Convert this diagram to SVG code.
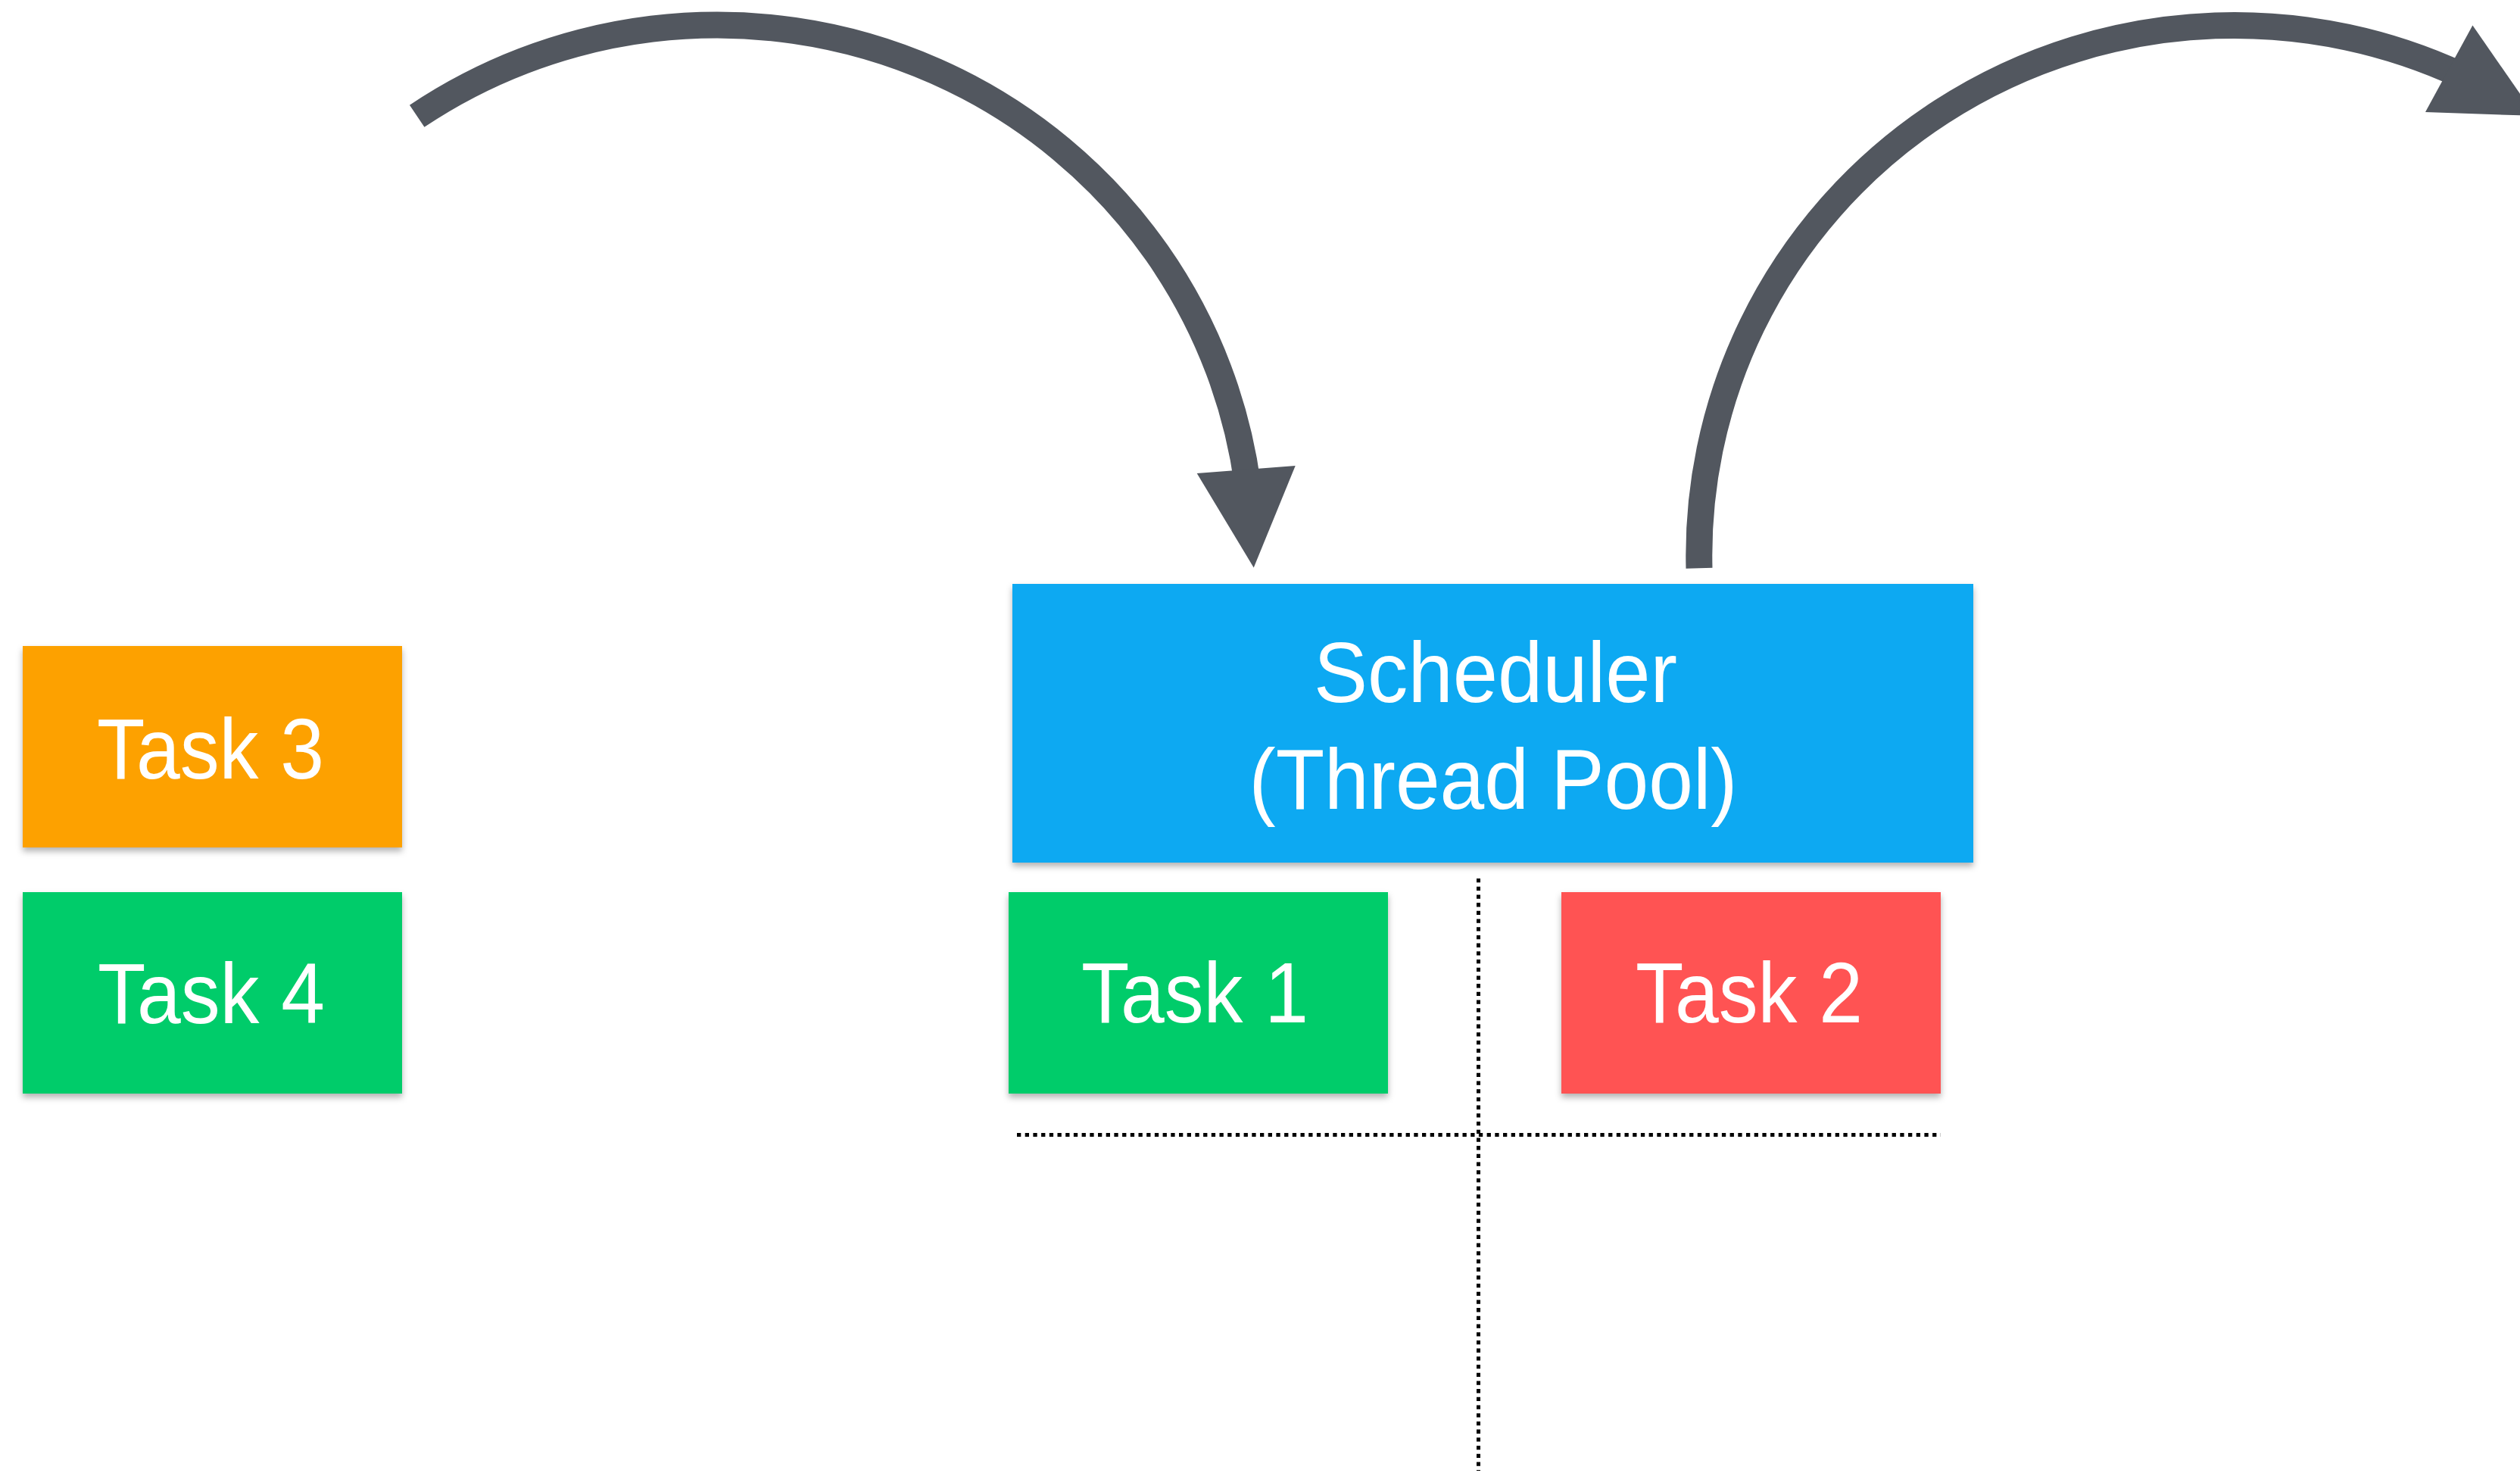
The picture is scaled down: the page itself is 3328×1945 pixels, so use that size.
<svg xmlns="http://www.w3.org/2000/svg" width="3328" height="1945" viewBox="0 0 3328 1945">
  <defs>
    <style>
      .box { filter: url(#shadow); }
      .label { font-family: "Liberation Sans", Arial, sans-serif; font-size: 113px; fill: #ffffff; text-anchor: middle; }
      .flow { fill: none; stroke: #52575F; stroke-width: 35; stroke-linecap: butt; }
      .head { fill: #52575F; }
      .guide { fill: none; stroke: #000000; stroke-width: 5; stroke-dasharray: 5.3 5.4; }
    </style>
    <filter id="shadow" x="-5%" y="-10%" width="110%" height="125%">
      <feDropShadow dx="0" dy="5" stdDeviation="4" flood-color="#000000" flood-opacity="0.3"/>
    </filter>
    <!-- arrowhead pointing along +x, base centred on the origin -->
    <path id="arrowhead" d="M0,-65.2 L130,0 L0,65.2 Z"/>
  </defs>

  <rect width="3328" height="1945" fill="#ffffff"/>

  <!-- queued tasks -->
  <g id="node-task3">
    <rect class="box" x="30" y="853" width="501" height="266" fill="#FDA100"/>
    <text class="label" x="278" y="1028" textLength="300" lengthAdjust="spacingAndGlyphs">Task 3</text>
  </g>
  <g id="node-task4">
    <rect class="box" x="30" y="1178" width="501" height="266" fill="#03CC6B"/>
    <text class="label" x="279" y="1351" textLength="300" lengthAdjust="spacingAndGlyphs">Task 4</text>
  </g>

  <!-- scheduler -->
  <g id="node-scheduler">
    <rect class="box" x="1337" y="771" width="1269" height="368" fill="#0EA9F2"/>
    <text class="label" x="1975" y="927" style="font-size:114px" textLength="480" lengthAdjust="spacingAndGlyphs">Scheduler</text>
    <text class="label" x="1972" y="1068" style="font-size:114px" textLength="645" lengthAdjust="spacingAndGlyphs">(Thread Pool)</text>
  </g>

  <!-- running tasks -->
  <g id="node-task1">
    <rect class="box" x="1332" y="1178" width="501" height="266" fill="#03CC6B"/>
    <text class="label" x="1578" y="1350" textLength="300" lengthAdjust="spacingAndGlyphs">Task 1</text>
  </g>
  <g id="node-task2">
    <rect class="box" x="2062" y="1178" width="501" height="266" fill="#FF5252"/>
    <text class="label" x="2310" y="1350" textLength="300" lengthAdjust="spacingAndGlyphs">Task 2</text>
  </g>

  <!-- thread lanes -->
  <g id="lanes">
    <line class="guide" x1="1952.5" y1="1160" x2="1952.5" y2="1942"/>
    <line class="guide" x1="1343" y1="1498.5" x2="2563" y2="1498.5"/>
  </g>

  <!-- connectors -->
  <g id="connectors">
    <path class="flow" d="M550.7,153.3 A707,700 0 0 1 1647.7,640"/>
    <use href="#arrowhead" class="head" transform="translate(1645.7,620) rotate(85.58)"/>
    <path class="flow" d="M2244,750.3 A707,700 0 0 1 3250,99.2"/>
    <use href="#arrowhead" class="head" transform="translate(3234.2,90.8) rotate(28.6)"/>
  </g>
</svg>
